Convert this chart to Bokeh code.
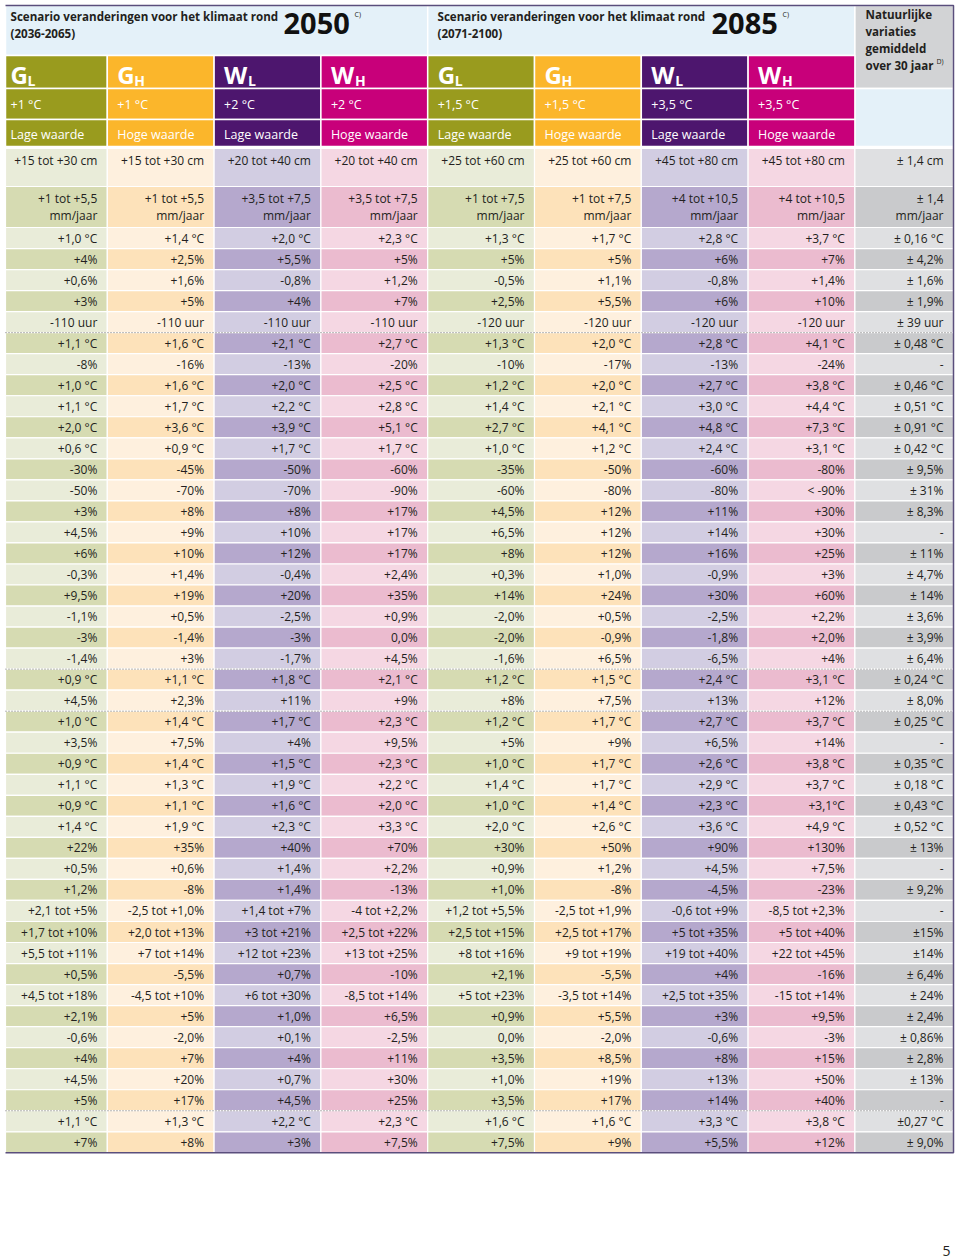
from bokeh.plotting import figure
from bokeh.models import Range1d
from bokeh.embed import file_html
from bokeh.resources import INLINE
from bokeh.core.properties import value

FONT = "Open Sans"

# ---------------- data ----------------
title_text = "Scenario veranderingen voor het klimaat rond"
periods = ["2050", "2085"]
period_ranges = ["(2036-2065)", "(2071-2100)"]
scenario_letters = ["G", "G", "W", "W", "G", "G", "W", "W"]
scenario_subs = ["L", "H", "L", "H", "L", "H", "L", "H"]
scenario_temps = ["+1 °C", "+1 °C", "+2 °C", "+2 °C", "+1,5 °C", "+1,5 °C", "+3,5 °C", "+3,5 °C"]
scenario_labels = ["Lage waarde", "Hoge waarde", "Lage waarde", "Hoge waarde",
                   "Lage waarde", "Hoge waarde", "Lage waarde", "Hoge waarde"]
natural_header = ["Natuurlijke", "variaties", "gemiddeld", "over 30 jaar"]

gl_2050 = ["+15 tot +30 cm", "+1 tot +5,5\nmm/jaar",
           "+1,0 °C", "+4%", "+0,6%", "+3%", "-110 uur", "+1,1 °C", "-8%", "+1,0 °C", "+1,1 °C",
           "+2,0 °C", "+0,6 °C", "-30%", "-50%", "+3%", "+4,5%", "+6%", "-0,3%", "+9,5%", "-1,1%",
           "-3%", "-1,4%", "+0,9 °C", "+4,5%", "+1,0 °C", "+3,5%", "+0,9 °C", "+1,1 °C", "+0,9 °C",
           "+1,4 °C", "+22%", "+0,5%", "+1,2%", "+2,1 tot +5%", "+1,7 tot +10%", "+5,5 tot +11%",
           "+0,5%", "+4,5 tot +18%", "+2,1%", "-0,6%", "+4%", "+4,5%", "+5%", "+1,1 °C", "+7%"]
gh_2050 = ["+15 tot +30 cm", "+1 tot +5,5\nmm/jaar",
           "+1,4 °C", "+2,5%", "+1,6%", "+5%", "-110 uur", "+1,6 °C", "-16%", "+1,6 °C", "+1,7 °C",
           "+3,6 °C", "+0,9 °C", "-45%", "-70%", "+8%", "+9%", "+10%", "+1,4%", "+19%", "+0,5%",
           "-1,4%", "+3%", "+1,1 °C", "+2,3%", "+1,4 °C", "+7,5%", "+1,4 °C", "+1,3 °C", "+1,1 °C",
           "+1,9 °C", "+35%", "+0,6%", "-8%", "-2,5 tot +1,0%", "+2,0 tot +13%", "+7 tot +14%",
           "-5,5%", "-4,5 tot +10%", "+5%", "-2,0%", "+7%", "+20%", "+17%", "+1,3 °C", "+8%"]
wl_2050 = ["+20 tot +40 cm", "+3,5 tot +7,5\nmm/jaar",
           "+2,0 °C", "+5,5%", "-0,8%", "+4%", "-110 uur", "+2,1 °C", "-13%", "+2,0 °C", "+2,2 °C",
           "+3,9 °C", "+1,7 °C", "-50%", "-70%", "+8%", "+10%", "+12%", "-0,4%", "+20%", "-2,5%",
           "-3%", "-1,7%", "+1,8 °C", "+11%", "+1,7 °C", "+4%", "+1,5 °C", "+1,9 °C", "+1,6 °C",
           "+2,3 °C", "+40%", "+1,4%", "+1,4%", "+1,4 tot +7%", "+3 tot +21%", "+12 tot +23%",
           "+0,7%", "+6 tot +30%", "+1,0%", "+0,1%", "+4%", "+0,7%", "+4,5%", "+2,2 °C", "+3%"]
wh_2050 = ["+20 tot +40 cm", "+3,5 tot +7,5\nmm/jaar",
           "+2,3 °C", "+5%", "+1,2%", "+7%", "-110 uur", "+2,7 °C", "-20%", "+2,5 °C", "+2,8 °C",
           "+5,1 °C", "+1,7 °C", "-60%", "-90%", "+17%", "+17%", "+17%", "+2,4%", "+35%", "+0,9%",
           "0,0%", "+4,5%", "+2,1 °C", "+9%", "+2,3 °C", "+9,5%", "+2,3 °C", "+2,2 °C", "+2,0 °C",
           "+3,3 °C", "+70%", "+2,2%", "-13%", "-4 tot +2,2%", "+2,5 tot +22%", "+13 tot +25%",
           "-10%", "-8,5 tot +14%", "+6,5%", "-2,5%", "+11%", "+30%", "+25%", "+2,3 °C", "+7,5%"]
gl_2085 = ["+25 tot +60 cm", "+1 tot +7,5\nmm/jaar",
           "+1,3 °C", "+5%", "-0,5%", "+2,5%", "-120 uur", "+1,3 °C", "-10%", "+1,2 °C", "+1,4 °C",
           "+2,7 °C", "+1,0 °C", "-35%", "-60%", "+4,5%", "+6,5%", "+8%", "+0,3%", "+14%", "-2,0%",
           "-2,0%", "-1,6%", "+1,2 °C", "+8%", "+1,2 °C", "+5%", "+1,0 °C", "+1,4 °C", "+1,0 °C",
           "+2,0 °C", "+30%", "+0,9%", "+1,0%", "+1,2 tot +5,5%", "+2,5 tot +15%", "+8 tot +16%",
           "+2,1%", "+5 tot +23%", "+0,9%", "0,0%", "+3,5%", "+1,0%", "+3,5%", "+1,6 °C", "+7,5%"]
gh_2085 = ["+25 tot +60 cm", "+1 tot +7,5\nmm/jaar",
           "+1,7 °C", "+5%", "+1,1%", "+5,5%", "-120 uur", "+2,0 °C", "-17%", "+2,0 °C", "+2,1 °C",
           "+4,1 °C", "+1,2 °C", "-50%", "-80%", "+12%", "+12%", "+12%", "+1,0%", "+24%", "+0,5%",
           "-0,9%", "+6,5%", "+1,5 °C", "+7,5%", "+1,7 °C", "+9%", "+1,7 °C", "+1,7 °C", "+1,4 °C",
           "+2,6 °C", "+50%", "+1,2%", "-8%", "-2,5 tot +1,9%", "+2,5 tot +17%", "+9 tot +19%",
           "-5,5%", "-3,5 tot +14%", "+5,5%", "-2,0%", "+8,5%", "+19%", "+17%", "+1,6 °C", "+9%"]
wl_2085 = ["+45 tot +80 cm", "+4 tot +10,5\nmm/jaar",
           "+2,8 °C", "+6%", "-0,8%", "+6%", "-120 uur", "+2,8 °C", "-13%", "+2,7 °C", "+3,0 °C",
           "+4,8 °C", "+2,4 °C", "-60%", "-80%", "+11%", "+14%", "+16%", "-0,9%", "+30%", "-2,5%",
           "-1,8%", "-6,5%", "+2,4 °C", "+13%", "+2,7 °C", "+6,5%", "+2,6 °C", "+2,9 °C", "+2,3 °C",
           "+3,6 °C", "+90%", "+4,5%", "-4,5%", "-0,6 tot +9%", "+5 tot +35%", "+19 tot +40%",
           "+4%", "+2,5 tot +35%", "+3%", "-0,6%", "+8%", "+13%", "+14%", "+3,3 °C", "+5,5%"]
wh_2085 = ["+45 tot +80 cm", "+4 tot +10,5\nmm/jaar",
           "+3,7 °C", "+7%", "+1,4%", "+10%", "-120 uur", "+4,1 °C", "-24%", "+3,8 °C", "+4,4 °C",
           "+7,3 °C", "+3,1 °C", "-80%", "< -90%", "+30%", "+30%", "+25%", "+3%", "+60%", "+2,2%",
           "+2,0%", "+4%", "+3,1 °C", "+12%", "+3,7 °C", "+14%", "+3,8 °C", "+3,7 °C", "+3,1°C",
           "+4,9 °C", "+130%", "+7,5%", "-23%", "-8,5 tot +2,3%", "+5 tot +40%", "+22 tot +45%",
           "-16%", "-15 tot +14%", "+9,5%", "-3%", "+15%", "+50%", "+40%", "+3,8 °C", "+12%"]
natural = ["± 1,4 cm", "± 1,4\nmm/jaar",
           "± 0,16 °C", "± 4,2%", "± 1,6%", "± 1,9%", "± 39 uur", "± 0,48 °C", "-", "± 0,46 °C",
           "± 0,51 °C", "± 0,91 °C", "± 0,42 °C", "± 9,5%", "± 31%", "± 8,3%", "-", "± 11%", "± 4,7%",
           "± 14%", "± 3,6%", "± 3,9%", "± 6,4%", "± 0,24 °C", "± 8,0%", "± 0,25 °C", "-", "± 0,35 °C",
           "± 0,18 °C", "± 0,43 °C", "± 0,52 °C", "± 13%", "-", "± 9,2%", "-", "±15%", "±14%", "± 6,4%",
           "± 24%", "± 2,4%", "± 0,86%", "± 2,8%", "± 13%", "-", "±0,27 °C", "± 9,0%"]

columns = [gl_2050, gh_2050, wl_2050, wh_2050, gl_2085, gh_2085, wl_2085, wh_2085, natural]
dotted_after_rows = [6, 22, 24, 43]
page_number = "5"

# ---------------- styling ----------------
head_colors = ["#999b1e", "#fbb62b", "#4d166e", "#c8007a"] * 2
light_colors = ["#e9ecd9", "#fef0de", "#d2cde2", "#f5d7e3"] * 2 + ["#dfe0e2"]
dark_colors = ["#d6dbb2", "#fde2ba", "#b5a8cd", "#ebbbcf"] * 2 + ["#c9cacc"]
sub_offsets = {"G": 17, "W": 24}
LIGHT_BLUE = "#e4f1f9"
GREY_HEAD = "#d2d3d5"
TXT = "#231f20"

# ---------------- geometry (1 unit = 1 screen pixel) ----------------
W, H = 958, 1258
X0, XR = 5, 953
col_w = 106.8
edges = [X0] + [col_w * i for i in range(1, 9)] + [XR]
Y0 = 5
title_bot, letter_bot, temp_bot, label_bot = 55, 88, 119, 146
data_top = 148
row_h = 21.03
n_rows = len(gl_2050)
row_tops = [data_top, 186] + [227 + row_h * k for k in range(n_rows - 2)]
row_bots = [186, 227] + [227 + row_h * (k + 1) for k in range(n_rows - 2)]
table_bot = row_bots[-1]

p = figure(width=W, height=H, x_range=Range1d(0, W), y_range=Range1d(H, 0),
           output_backend="svg", toolbar_location=None, min_border=0,
           outline_line_color=None, background_fill_color="white", border_fill_color="white")
p.axis.visible = False
p.grid.visible = False

# title band
p.quad(left=[edges[0], edges[4]], right=[edges[4], edges[8]], top=[Y0, Y0], bottom=[title_bot, title_bot],
       fill_color=LIGHT_BLUE, line_color="white", line_width=1.5)
# natural column header
p.quad(left=[edges[8], edges[8]], right=[edges[9], edges[9]], top=[Y0, letter_bot], bottom=[letter_bot, label_bot],
       fill_color=[GREY_HEAD, LIGHT_BLUE], line_color="white", line_width=1.5)

# scenario header bands
hl, hr, ht, hb, hc = [], [], [], [], []
for c in range(8):
    for t, b in [(title_bot, letter_bot), (letter_bot, temp_bot), (temp_bot, label_bot)]:
        hl.append(edges[c]); hr.append(edges[c + 1]); ht.append(t); hb.append(b); hc.append(head_colors[c])
p.quad(left=hl, right=hr, top=ht, bottom=hb, fill_color=hc, line_color="white", line_width=1.5)

# data cells
cl, cr, ct, cb, cc = [], [], [], [], []
tx, ty, tt = [], [], []
for c, col in enumerate(columns):
    for r, val in enumerate(col):
        cl.append(edges[c]); cr.append(edges[c + 1]); ct.append(row_tops[r]); cb.append(row_bots[r])
        cc.append(light_colors[c] if r % 2 == 0 else dark_colors[c])
        x = edges[c + 1] - 10
        if "\n" in val:
            mid = (row_tops[r] + row_bots[r]) / 2
            for i, ln in enumerate(val.split("\n")):
                tx.append(x); ty.append(mid + (i - 0.5) * 17); tt.append(ln)
        elif r == 0:
            tx.append(x); ty.append(row_tops[r] + 12); tt.append(val)
        else:
            tx.append(x); ty.append((row_tops[r] + row_bots[r]) / 2); tt.append(val)
p.quad(left=cl, right=cr, top=ct, bottom=cb, fill_color=cc, line_color="white", line_width=1.2)
p.text(x=tx, y=ty, text=tt, text_align="right", text_baseline="middle",
       text_font=value(FONT), text_font_size="12px", text_color=TXT)

# dotted separators
dy = [row_bots[i] for i in dotted_after_rows]
p.segment(x0=[X0] * len(dy), x1=[XR] * len(dy), y0=dy, y1=dy, line_color="#6d6d6d",
          line_width=1, line_dash="1 2")

# outer border
p.line(x=[X0, XR, XR, X0], y=[Y0, Y0, table_bot, table_bot], line_color="#5a4e7c", line_width=1.5)

# titles
for i, (yr, rng) in enumerate(zip(periods, period_ranges)):
    x_t = [10, 437][i]
    x_y = [283, 711][i]
    p.text(x=[x_t], y=[16], text=[title_text], text_font=value(FONT), text_font_style="bold",
           text_font_size="11.6px", text_baseline="middle", text_color=TXT)
    p.text(x=[x_t], y=[33], text=[rng], text_font=value(FONT), text_font_style="bold",
           text_font_size="11.6px", text_baseline="middle", text_color=TXT)
    p.text(x=[x_y], y=[22.5], text=[yr], text_font=value(FONT), text_font_style="bold",
           text_font_size="29px", text_baseline="middle", text_color="#111111")
    p.text(x=[x_y + 71], y=[13.5], text=["C)"], text_font=value(FONT),
           text_font_size="7px", text_baseline="middle", text_color=TXT)

# natural header text
p.text(x=[865] * 4, y=[14 + 17 * i for i in range(4)], text=natural_header, text_font=value(FONT),
       text_font_style="bold", text_font_size="11.6px", text_baseline="middle", text_color=TXT)
p.text(x=[936], y=[61], text=["D)"], text_font=value(FONT), text_font_size="7px",
       text_baseline="middle", text_color=TXT)

# scenario header text
lx = [col_w * c + 10 for c in range(8)]
p.text(x=lx, y=[73.5] * 8, text=scenario_letters, text_font=value(FONT), text_font_style="bold",
       text_font_size="24px", text_baseline="middle", text_color="white")
p.text(x=[lx[c] + sub_offsets[scenario_letters[c]] for c in range(8)], y=[80] * 8, text=scenario_subs,
       text_font=value(FONT), text_font_style="bold", text_font_size="14px",
       text_baseline="middle", text_color="white")
p.text(x=lx, y=[104] * 8, text=scenario_temps, text_font=value(FONT), text_font_size="12.5px",
       text_baseline="middle", text_color="white")
p.text(x=lx, y=[134] * 8, text=scenario_labels, text_font=value(FONT), text_font_size="12.5px",
       text_baseline="middle", text_color="white")

# page number
p.text(x=[950], y=[1250], text=[page_number], text_font=value(FONT), text_font_size="14px",
       text_align="right", text_baseline="middle", text_color=TXT)

open("out.html", "w").write(file_html(p, INLINE))
